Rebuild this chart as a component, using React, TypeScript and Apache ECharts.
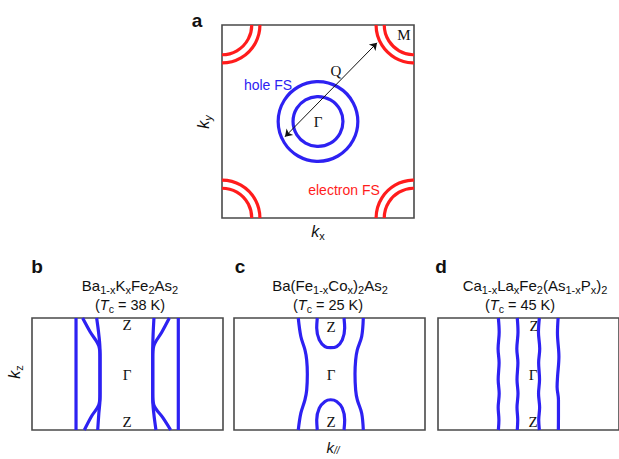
import React, { useEffect, useRef } from 'react';
import * as echarts from 'echarts';

// ---------- Panel a : kx-ky Fermi surface (units of pi/a, box = -1..1) ----------
const holeCenter = [0, 0];
const holeRadii = [0.26, 0.415];
const electronCorners = [[-1, 1], [1, 1], [-1, -1], [1, -1]];
const electronRadii = [0.31, 0.395];
const nestingQ = [[-0.344, -0.158], [0.615, 0.815]];

// ---------- Panel b : Ba1-xKxFe2As2, [k//, kz] ----------
const bOuterLeft = [[-0.539, 1], [-0.539, -1]];
const bOuterRight = [[0.532, 1], [0.532, -1]];
const bInnerLeft = [[-0.323, 1], [-0.3, 0.7], [-0.288, 0.43], [-0.288, 0], [-0.288, -0.45], [-0.3, -0.7], [-0.312, -1]];
const bInnerRight = [[0.277, 1], [0.268, 0.7], [0.264, 0.43], [0.264, 0], [0.264, -0.45], [0.275, -0.7], [0.298, -1]];
const bWarpLeft = [[-0.47, 1], [-0.39, 0.75], [-0.3, 0.5], [-0.288, 0.3], [-0.288, 0], [-0.288, -0.35], [-0.3, -0.55], [-0.375, -0.75], [-0.452, -1]];
const bWarpRight = [[0.438, 1], [0.36, 0.75], [0.275, 0.5], [0.264, 0.3], [0.264, 0], [0.264, -0.35], [0.275, -0.55], [0.37, -0.78], [0.452, -1]];

// ---------- Panel c : Ba(Fe1-xCox)2As2 ----------
const cOuterLeft = [[-0.327, 1], [-0.3, 0.67], [-0.257, 0.43], [-0.239, 0.25], [-0.232, 0], [-0.239, -0.29], [-0.257, -0.46], [-0.3, -0.7], [-0.327, -1]];
const cOuterRight = [[0.354, 1], [0.337, 0.67], [0.291, 0.43], [0.274, 0.25], [0.267, 0], [0.274, -0.29], [0.291, -0.46], [0.337, -0.7], [0.354, -1]];
const cPocketTop = [[-0.128, 1], [-0.134, 0.82], [-0.107, 0.61], [-0.047, 0.49], [0.012, 0.47], [0.075, 0.49], [0.134, 0.61], [0.159, 0.82], [0.152, 1]];
const cPocketBottom = [[-0.128, -1], [-0.134, -0.82], [-0.107, -0.61], [-0.047, -0.49], [0.012, -0.46], [0.075, -0.49], [0.134, -0.61], [0.159, -0.82], [0.152, -1]];

// ---------- Panel d : Ca1-xLaxFe2(As1-xPx)2 ----------
const dLine1 = [[-0.333, 1], [-0.324, 0.75], [-0.336, 0.45], [-0.325, 0.2], [-0.335, -0.1], [-0.324, -0.35], [-0.335, -0.6], [-0.327, -0.82], [-0.333, -1]];
const dLine2 = [[-0.124, 1], [-0.116, 0.75], [-0.129, 0.45], [-0.117, 0.2], [-0.127, -0.1], [-0.116, -0.35], [-0.127, -0.6], [-0.119, -0.82], [-0.124, -1]];
const dLine3 = [[0.12, 1], [0.11, 0.75], [0.124, 0.45], [0.112, 0.2], [0.122, -0.1], [0.111, -0.35], [0.123, -0.6], [0.113, -0.82], [0.12, -1]];
const dLine4 = [[0.327, 1], [0.32, 0.73], [0.336, 0.31], [0.321, -0.05], [0.316, -0.23], [0.331, -0.46], [0.331, -0.76], [0.33, -1]];

const BLUE = '#2d21f2';
const RED = '#ff1c1c';
const BORDER = '#4a4a4a';
const SANS = '"Liberation Sans", Arial, Helvetica, sans-serif';
const SERIF = '"Liberation Serif", "Times New Roman", serif';

const richTitle = {
  m: { fontSize: 15, fontFamily: SANS, lineHeight: 20, fill: '#111' },
  s: { fontSize: 11, fontFamily: SANS, lineHeight: 11, verticalAlign: 'bottom', fill: '#111' },
};
const richTc = {
  m: { fontSize: 14.5, fontFamily: SANS, lineHeight: 19, fill: '#111' },
  i: { fontSize: 14.5, fontFamily: SANS, fontStyle: 'italic', lineHeight: 19, fill: '#111' },
  s: { fontSize: 10.5, fontFamily: SANS, lineHeight: 10, verticalAlign: 'bottom', fill: '#111' },
};
const richK = {
  i: { fontSize: 16, fontFamily: SANS, fontStyle: 'italic', lineHeight: 20, fill: '#111' },
  s: { fontSize: 11, fontFamily: SANS, lineHeight: 11, verticalAlign: 'bottom', fill: '#111' },
  si: { fontSize: 11, fontFamily: SANS, fontStyle: 'italic', lineHeight: 11, verticalAlign: 'bottom', fill: '#111' },
};
const richKpar = {
  i: { fontSize: 15, fontFamily: SANS, fontStyle: 'italic', lineHeight: 17, fill: '#111' },
  si: { fontSize: 10, fontFamily: SANS, fontStyle: 'italic', lineHeight: 10, verticalAlign: 'bottom', fill: '#111' },
};

function txt(x: number, y: number, text: string, style: any = {}, extra: any = {}) {
  return {
    type: 'text',
    x,
    y,
    silent: true,
    ...extra,
    style: {
      text,
      align: 'center',
      verticalAlign: 'middle',
      textAlign: 'center',
      textVerticalAlign: 'middle',
      fill: '#111',
      ...style,
    },
  };
}

export default function App() {
  const ref = useRef<HTMLDivElement>(null);
  useEffect(() => {
    if (!ref.current) return;
    const chart = echarts.init(ref.current, undefined, { renderer: 'svg' });

    const curve = (data: number[][], g: number) => ({
      type: 'line',
      xAxisIndex: g,
      yAxisIndex: g,
      data,
      smooth: 0.35,
      symbol: 'none',
      silent: true,
      clip: true,
      lineStyle: { color: BLUE, width: 3.2 },
    });

    const circleSeries = (data: number[][], color: string) => ({
      type: 'custom',
      xAxisIndex: 0,
      yAxisIndex: 0,
      clip: true,
      silent: true,
      data,
      renderItem: (_p: any, api: any) => {
        const c = api.coord([api.value(0), api.value(1)]);
        const r = api.size([api.value(2), 0])[0];
        return {
          type: 'circle',
          shape: { cx: c[0], cy: c[1], r },
          style: { fill: 'none', stroke: color, lineWidth: 3.2 },
        };
      },
    });

    const holeData = holeRadii.map((r) => [holeCenter[0], holeCenter[1], r]);
    const electronData: number[][] = [];
    electronCorners.forEach((c) => electronRadii.forEach((r) => electronData.push([c[0], c[1], r])));

    const grids = [
      { left: 222, top: 25, width: 192, height: 193 },
      { left: 32, top: 318, width: 191, height: 112 },
      { left: 234, top: 318, width: 191, height: 112 },
      { left: 438, top: 318, width: 191, height: 112 },
    ].map((g) => ({ ...g, show: true, borderColor: BORDER, borderWidth: 1.6, backgroundColor: 'transparent' }));

    const axes = grids.map((_, i) => ({ type: 'value', gridIndex: i, min: -1, max: 1, show: false }));

    const SERIF_STYLE = { fontFamily: SERIF, fontSize: 15, fill: '#111' };

    const option: any = {
      animation: false,
      backgroundColor: '#ffffff',
      grid: grids,
      xAxis: axes,
      yAxis: axes.map((a) => ({ ...a })),
      series: [
        circleSeries(electronData, RED),
        circleSeries(holeData, BLUE),
        {
          type: 'lines',
          coordinateSystem: 'cartesian2d',
          xAxisIndex: 0,
          yAxisIndex: 0,
          silent: true,
          symbol: ['arrow', 'arrow'],
          symbolSize: 7,
          lineStyle: { color: '#111', width: 1, opacity: 1 },
          data: [{ coords: nestingQ }],
        },
        curve(bOuterLeft, 1),
        curve(bOuterRight, 1),
        curve(bInnerLeft, 1),
        curve(bInnerRight, 1),
        curve(bWarpLeft, 1),
        curve(bWarpRight, 1),
        curve(cOuterLeft, 2),
        curve(cOuterRight, 2),
        curve(cPocketTop, 2),
        curve(cPocketBottom, 2),
        curve(dLine1, 3),
        curve(dLine2, 3),
        curve(dLine3, 3),
        curve(dLine4, 3),
      ],
      graphic: [
        // panel letters
        txt(197, 20, 'a', { fontFamily: SANS, fontSize: 19, fontWeight: 'bold' }),
        txt(37, 266, 'b', { fontFamily: SANS, fontSize: 19, fontWeight: 'bold' }),
        txt(240, 266, 'c', { fontFamily: SANS, fontSize: 19, fontWeight: 'bold' }),
        txt(441, 266, 'd', { fontFamily: SANS, fontSize: 19, fontWeight: 'bold' }),
        // panel a labels
        txt(404, 35, 'M', SERIF_STYLE),
        txt(336, 71, 'Q', SERIF_STYLE),
        txt(318, 122, 'Γ', SERIF_STYLE),
        txt(268, 85, 'hole FS', { fontFamily: SANS, fontSize: 14, fill: BLUE }),
        txt(344, 190, 'electron FS', { fontFamily: SANS, fontSize: 14, fill: RED }),
        txt(318, 231, '{i|k}{s|x}', { rich: richK }),
        txt(203, 122, '{i|k}{si|y}', { rich: richK }, { rotation: Math.PI / 2 }),
        // panel b-d axis labels
        txt(14, 372, '{i|k}{s|z}', { rich: richK }, { rotation: Math.PI / 2 }),
        txt(333, 447, '{i|k}{si|//}', { rich: richKpar }),
        // titles
        txt(130, 285, '{m|Ba}{s|1-x}{m|K}{s|x}{m|Fe}{s|2}{m|As}{s|2}', { rich: richTitle }),
        txt(130, 305, '{m|(}{i|T}{s|c}{m| = 38 K)}', { rich: richTc }),
        txt(330, 285, '{m|Ba(Fe}{s|1-x}{m|Co}{s|x}{m|)}{s|2}{m|As}{s|2}', { rich: richTitle }),
        txt(328, 305, '{m|(}{i|T}{s|c}{m| = 25 K)}', { rich: richTc }),
        txt(535, 285, '{m|Ca}{s|1-x}{m|La}{s|x}{m|Fe}{s|2}{m|(As}{s|1-x}{m|P}{s|x}{m|)}{s|2}', { rich: richTitle }),
        txt(520, 305, '{m|(}{i|T}{s|c}{m| = 45 K)}', { rich: richTc }),
        // symmetry points b-d
        txt(127, 325, 'Z', SERIF_STYLE),
        txt(127, 375, 'Γ', SERIF_STYLE),
        txt(127, 422, 'Z', SERIF_STYLE),
        txt(331, 327, 'Z', SERIF_STYLE),
        txt(331, 375, 'Γ', SERIF_STYLE),
        txt(331, 422, 'Z', SERIF_STYLE),
        txt(534, 326, 'Z', SERIF_STYLE),
        txt(533, 375, 'Γ', SERIF_STYLE),
        txt(533, 422, 'Z', SERIF_STYLE),
      ],
    };

    chart.setOption(option);
    return () => chart.dispose();
  }, []);

  return <div ref={ref} style={{ position: 'absolute', left: 0, top: 0, width: 619, height: 459 }} />;
}
